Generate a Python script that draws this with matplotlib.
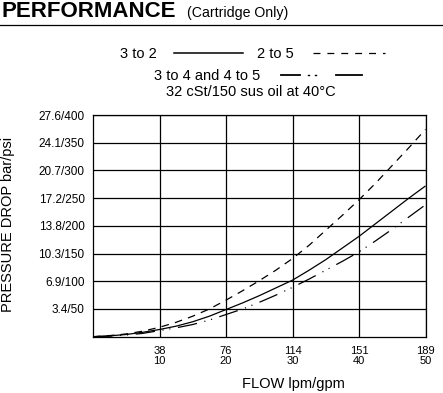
import matplotlib
matplotlib.use("Agg")
import matplotlib.pyplot as plt
from matplotlib.lines import Line2D

plt.rcParams['font.family'] = ['Liberation Sans', 'DejaVu Sans']
plt.rcParams['lines.scale_dashes'] = False

# ---- data (flow in gpm, pressure drop in psi) ----
flow_gpm = [0, 2.5, 5, 7.5, 10, 12.5, 15, 17.5, 20, 22.5, 25,
            27.5, 30, 32.5, 35, 37.5, 40, 42.5, 45, 47.5, 50]
p_3to2 = [0, 1.5, 4, 8, 13, 19, 27, 37, 49, 61, 74,
          88, 102, 120, 139, 160, 181, 204, 227, 250, 272]
p_2to5 = [0, 2, 5, 10, 17, 26, 37, 50, 66, 83, 101,
          120, 141, 165, 192, 219, 247, 277, 309, 341, 374]
p_3to4_4to5 = [0, 1, 3, 6, 11, 16, 22, 30, 40, 50, 62,
               75, 89, 104, 120, 136, 153, 173, 194, 216, 238]

x_ticks_gpm = [10, 20, 30, 40, 50]
x_tick_labels = ["38\n10", "76\n20", "114\n30", "151\n40", "189\n50"]
y_ticks_psi = [50, 100, 150, 200, 250, 300, 350, 400]
y_tick_labels = ["3.4/50", "6.9/100", "10.3/150", "13.8/200",
                 "17.2/250", "20.7/300", "24.1/350", "27.6/400"]

W, H = 443, 393
fig = plt.figure(figsize=(W / 100, H / 100), dpi=100)
fig.patch.set_facecolor('white')

def fx(x):
    return x / W

def fy(y):
    return 1 - y / H

# axes placement (pixels)
L, R, T, B = 93, 425.5, 115, 336.7
ax = fig.add_axes([fx(L), fy(B), (R - L) / W, (B - T) / H])
ax.set_xlim(0, 50)
ax.set_ylim(0, 400)

dash_style = (0, (5.5, 4.5))
dashdot_style = (0, (14, 5.5, 0.8, 4.2, 0.8, 5.5))

lw = 0.9
ax.plot(flow_gpm, p_3to2, color='black', lw=lw, solid_capstyle='butt')
ax.plot(flow_gpm, p_2to5, color='black', lw=lw, linestyle=dash_style)
ax.plot(flow_gpm, p_3to4_4to5, color='black', lw=lw, linestyle=dashdot_style)

ax.set_xticks(x_ticks_gpm)
ax.set_xticklabels(x_tick_labels, fontsize=8, linespacing=0.95)
ax.set_yticks(y_ticks_psi)
ax.set_yticklabels(y_tick_labels, fontsize=8.5)
ax.tick_params(length=0, pad=6)
ax.tick_params(axis='x', pad=7)
ax.grid(True, color='black', lw=0.9)
for s in ax.spines.values():
    s.set_color('black')
    s.set_linewidth(0.9)

# title
fig.text(fx(1.5), fy(17), "PERFORMANCE", fontsize=16, fontweight='bold',
         va='baseline', ha='left')
fig.text(fx(187), fy(17), "(Cartridge Only)", fontsize=10.2,
         va='baseline', ha='left')
fig.add_artist(Line2D([0, 1], [fy(24.5), fy(24.5)], color='black', lw=0.9,
                      transform=fig.transFigure))

# legend
fs = 10.5
fig.text(fx(120), fy(58), "3 to 2", fontsize=fs, va='baseline', ha='left')
fig.add_artist(Line2D([fx(174), fx(243)], [fy(52.5), fy(52.5)], color='black',
                      lw=1.1, transform=fig.transFigure))
fig.text(fx(257), fy(58), "2 to 5", fontsize=fs, va='baseline', ha='left')
fig.add_artist(Line2D([fx(313), fx(385)], [fy(52.5), fy(52.5)], color='black',
                      lw=0.9, linestyle=(0, (5, 5)), transform=fig.transFigure))
fig.text(fx(154), fy(80), "3 to 4 and 4 to 5", fontsize=fs, va='baseline', ha='left')
fig.add_artist(Line2D([fx(281), fx(300)], [fy(74.5), fy(74.5)], color='black',
                      lw=1.3, transform=fig.transFigure))
fig.add_artist(Line2D([fx(308), fx(308.8)], [fy(74.5), fy(74.5)], color='black',
                      lw=1.0, transform=fig.transFigure))
fig.add_artist(Line2D([fx(315), fx(315.8)], [fy(74.5), fy(74.5)], color='black',
                      lw=1.0, transform=fig.transFigure))
fig.add_artist(Line2D([fx(336), fx(362)], [fy(74.5), fy(74.5)], color='black',
                      lw=1.3, transform=fig.transFigure))
fig.text(fx(166), fy(95.5), "32 cSt/150 sus oil at 40°C", fontsize=fs,
         va='baseline', ha='left')

# axis labels
fig.text(fx(293), fy(388), "FLOW lpm/gpm", fontsize=10.5, va='baseline', ha='center')
fig.text(fx(8.5), fy(224), "PRESSURE DROP bar/psi", fontsize=10.5, rotation=90,
         va='center', ha='center')

fig.savefig("out.png", dpi=100, facecolor='white')
